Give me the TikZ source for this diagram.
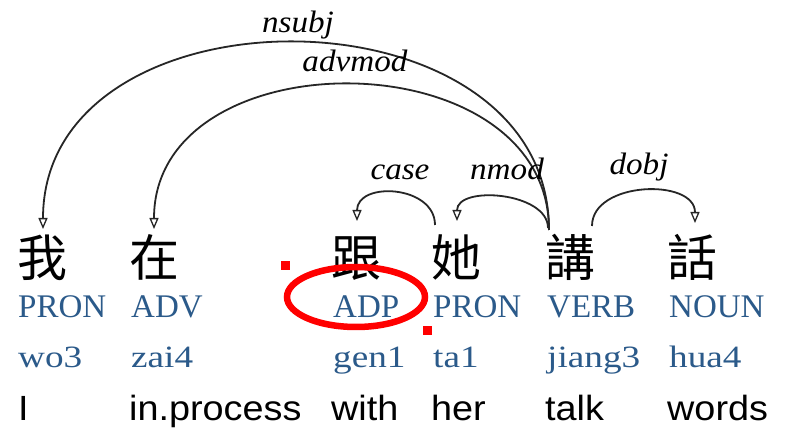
\documentclass[tikz,border=0pt]{standalone}
\usepackage{fontspec}
\usetikzlibrary{arrows.meta}
\setmainfont{Liberation Serif}
\newfontfamily\zhfont{Noto Sans CJK TC}
\newfontfamily\posfont{Liberation Serif}
\newfontfamily\pyfont[FakeStretch=1.2]{Liberation Serif}
\newfontfamily\glossfont[FakeStretch=1.08]{Liberation Sans}
\newfontfamily\relfont[FakeStretch=1.07]{Liberation Serif Italic}
\definecolor{tagblue}{RGB}{43,90,138}
\definecolor{markred}{RGB}{255,0,0}
\begin{document}
\begin{tikzpicture}[x=1pt,y=-1pt,
  zh/.style={anchor=base west,inner sep=0pt,font=\zhfont\fontsize{50}{50}\selectfont},
  tag/.style={anchor=base west,inner sep=0pt,text=tagblue,font=\posfont\fontsize{33}{33}\selectfont},
  py/.style={anchor=base west,inner sep=0pt,text=tagblue,font=\pyfont\fontsize{31}{31}\selectfont},
  gloss/.style={anchor=base west,inner sep=0pt,font=\glossfont\fontsize{35}{35}\selectfont},
  rel/.style={anchor=base,inner sep=0pt,font=\relfont\fontsize{31}{31}\selectfont},
  dep/.style={line width=1.8pt,draw=black!85,-{Triangle[open,length=11pt,width=9pt,line width=1.3pt]}}]
\useasboundingbox[fill=white] (0,0) rectangle (788,430);

% words
\node[zh] (w1) at (17,277) {我};
\node[zh] (w2) at (129,277) {在};
\node[zh] (w3) at (331,277) {跟};
\node[zh] (w4) at (431,277) {她};
\node[zh] (w5) at (545,277) {講};
\node[zh] (w6) at (667,277) {話};

% part-of-speech tags
\node[tag] (p1) at (18,318) {PRON};
\node[tag] (p2) at (131,318) {ADV};
\node[tag] (p3) at (333,318) {ADP};
\node[tag] (p4) at (433,318) {PRON};
\node[tag] (p5) at (547,318) {VERB};
\node[tag] (p6) at (669,318) {NOUN};

% pinyin
\node[py] (y1) at (18,368) {wo3};
\node[py] (y2) at (131,368) {zai4};
\node[py] (y3) at (333,368) {gen1};
\node[py] (y4) at (433,368) {ta1};
\node[py] (y5) at (547,368) {jiang3};
\node[py] (y6) at (669,368) {hua4};

% glosses
\node[gloss] (g1) at (18,421) {I};
\node[gloss] (g2) at (129,421) {in.process};
\node[gloss] (g3) at (331,421) {with};
\node[gloss] (g4) at (431,421) {her};
\node[gloss] (g5) at (545,421) {talk};
\node[gloss] (g6) at (667,421) {words};

% arc end points above the words
\coordinate (h5) at (549,230);
\coordinate (h5b) at (548,228);
\coordinate (h5r) at (592,226);
\coordinate (h4) at (435,225);
\coordinate (t1) at (43,229);
\coordinate (t2) at (154,229);
\coordinate (t3) at (357,221);
\coordinate (t4) at (457,221);
\coordinate (t6) at (695,223);

% dependency arcs
\draw[dep] (h5) .. controls +(0,-249) and +(0,-249) .. (t1);
\draw[dep] (h5) .. controls +(0,-193) and +(0,-193) .. (t2);
\draw[dep] (h4) .. controls +(0,-40) and +(0,-40) .. (t3);
\draw[dep] (h5b) .. controls +(0,-36) and +(0,-36) .. (t4);
\draw[dep] (h5r) .. controls +(0,-45) and +(0,-45) .. (t6);

% relation labels
\node[rel] (l1) at (298,33) {nsubj};
\node[rel] (l2) at (355,72) {advmod};
\node[rel] (l3) at (400,180) {case};
\node[rel] (l4) at (507,180) {nmod};
\node[rel] (l5) at (639,175) {dobj};

% highlight
\draw[markred,line width=6.5pt] (356,297) ellipse [x radius=69, y radius=30];
\fill[markred] (281,261) rectangle (290,270);
\fill[markred] (423,326) rectangle (432,335);
\end{tikzpicture}
\end{document}
